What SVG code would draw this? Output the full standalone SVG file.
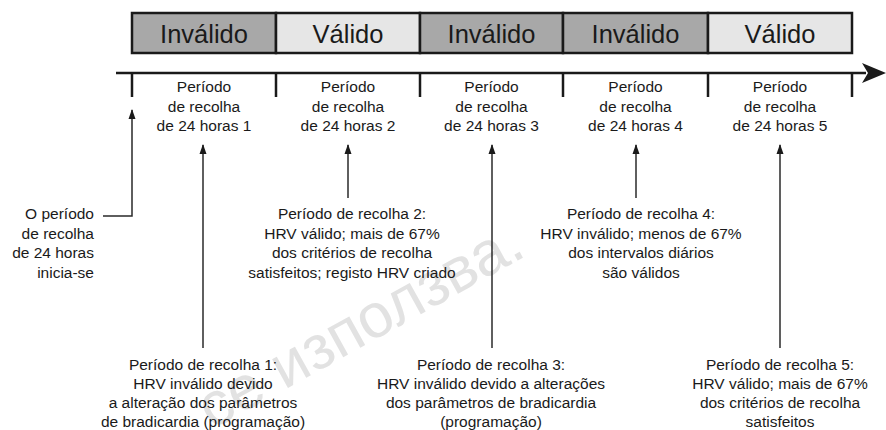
<svg xmlns="http://www.w3.org/2000/svg" width="886" height="430" viewBox="0 0 886 430">
<style>
text{font-family:"Liberation Sans",Arial,sans-serif;fill:#1a1a1a}
.big{font-size:25.5px;text-anchor:middle}
.lbl{font-size:15.5px;text-anchor:middle}
.rl{font-size:15.5px;text-anchor:end}
.inv{fill:#a8a8a8;stroke:#1a1a1a;stroke-width:2.5}
.val{fill:#e6e6e6;stroke:#1a1a1a;stroke-width:2.5}
.tick{stroke:#1a1a1a;stroke-width:2.5;fill:none}
.con{stroke:#2a2a2a;stroke-width:1.5;fill:none;marker-end:url(#ah)}
.wm{font-size:62px;fill:#e2e2e2}
</style>
<defs>
<marker id="ah" markerUnits="userSpaceOnUse" markerWidth="10" markerHeight="12" viewBox="0 0 10 12" refX="9" refY="6" orient="auto">
<path d="M0,2.5 L10,6 L0,9.5 Z" fill="#1a1a1a"/>
</marker>
</defs>
<text class="wm" x="212" y="430" transform="rotate(-29 212 430)">се използва.</text>
<g id="bar">
<g id="box1"><rect class="inv" x="132" y="13" width="144" height="40"/><text class="big" x="204" y="43">Inválido</text></g>
<g id="box2"><rect class="val" x="276" y="13" width="144" height="40"/><text class="big" x="348" y="43">Válido</text></g>
<g id="box3"><rect class="inv" x="420" y="13" width="143" height="40"/><text class="big" x="491.5" y="43">Inválido</text></g>
<g id="box4"><rect class="inv" x="563" y="13" width="145" height="40"/><text class="big" x="635.5" y="43">Inválido</text></g>
<g id="box5"><rect class="val" x="708" y="13" width="144" height="40"/><text class="big" x="780" y="43">Válido</text></g>
</g>
<g id="timeline">
<line class="tick" x1="116" y1="73" x2="866" y2="73"/>
<path d="M862,63 L886,73 L862,83 L868,73 Z" fill="#1a1a1a"/>
<line class="tick" x1="132" y1="73" x2="132" y2="97"/>
<line class="tick" x1="276" y1="73" x2="276" y2="97"/>
<line class="tick" x1="420" y1="73" x2="420" y2="97"/>
<line class="tick" x1="563" y1="73" x2="563" y2="97"/>
<line class="tick" x1="708" y1="73" x2="708" y2="97"/>
<line class="tick" x1="852" y1="73" x2="852" y2="97"/>
</g>
<g id="period1"><text class="lbl" x="204" y="92">Período</text><text class="lbl" x="204" y="111.5">de recolha</text><text class="lbl" x="204" y="131">de 24 horas 1</text></g>
<g id="period2"><text class="lbl" x="348" y="92">Período</text><text class="lbl" x="348" y="111.5">de recolha</text><text class="lbl" x="348" y="131">de 24 horas 2</text></g>
<g id="period3"><text class="lbl" x="491.5" y="92">Período</text><text class="lbl" x="491.5" y="111.5">de recolha</text><text class="lbl" x="491.5" y="131">de 24 horas 3</text></g>
<g id="period4"><text class="lbl" x="635.5" y="92">Período</text><text class="lbl" x="635.5" y="111.5">de recolha</text><text class="lbl" x="635.5" y="131">de 24 horas 4</text></g>
<g id="period5"><text class="lbl" x="780" y="92">Período</text><text class="lbl" x="780" y="111.5">de recolha</text><text class="lbl" x="780" y="131">de 24 horas 5</text></g>
<g id="note0"><text class="rl" x="94" y="219">O período</text><text class="rl" x="94" y="238.5">de recolha</text><text class="rl" x="94" y="258">de 24 horas</text><text class="rl" x="94" y="277.5">inicia-se</text></g>
<g id="note1"><text class="lbl" x="203" y="370">Período de recolha 1:</text><text class="lbl" x="203" y="389">HRV inválido devido</text><text class="lbl" x="203" y="408">a alteração dos parâmetros</text><text class="lbl" x="203" y="426.5">de bradicardia (programação)</text></g>
<g id="note2"><text class="lbl" x="352" y="219">Período de recolha 2:</text><text class="lbl" x="352" y="238.5">HRV válido; mais de 67%</text><text class="lbl" x="352" y="258">dos critérios de recolha</text><text class="lbl" x="352" y="277.5">satisfeitos; registo HRV criado</text></g>
<g id="note3"><text class="lbl" x="491" y="370">Período de recolha 3:</text><text class="lbl" x="491" y="389">HRV inválido devido a alterações</text><text class="lbl" x="491" y="408">dos parâmetros de bradicardia</text><text class="lbl" x="491" y="426.5">(programação)</text></g>
<g id="note4"><text class="lbl" x="641" y="219">Período de recolha 4:</text><text class="lbl" x="641" y="238.5">HRV inválido; menos de 67%</text><text class="lbl" x="641" y="258">dos intervalos diários</text><text class="lbl" x="641" y="277.5">são válidos</text></g>
<g id="note5"><text class="lbl" x="780" y="370">Período de recolha 5:</text><text class="lbl" x="780" y="389">HRV válido; mais de 67%</text><text class="lbl" x="780" y="408">dos critérios de recolha</text><text class="lbl" x="780" y="426.5">satisfeitos</text></g>
<g id="connectors">
<path class="con" d="M103,216 H132 V110"/>
<path class="con" d="M203,348 V145"/>
<path class="con" d="M348,198 V145"/>
<path class="con" d="M492,348 V145"/>
<path class="con" d="M636,198 V145"/>
<path class="con" d="M780,348 V145"/>
</g>
</svg>
